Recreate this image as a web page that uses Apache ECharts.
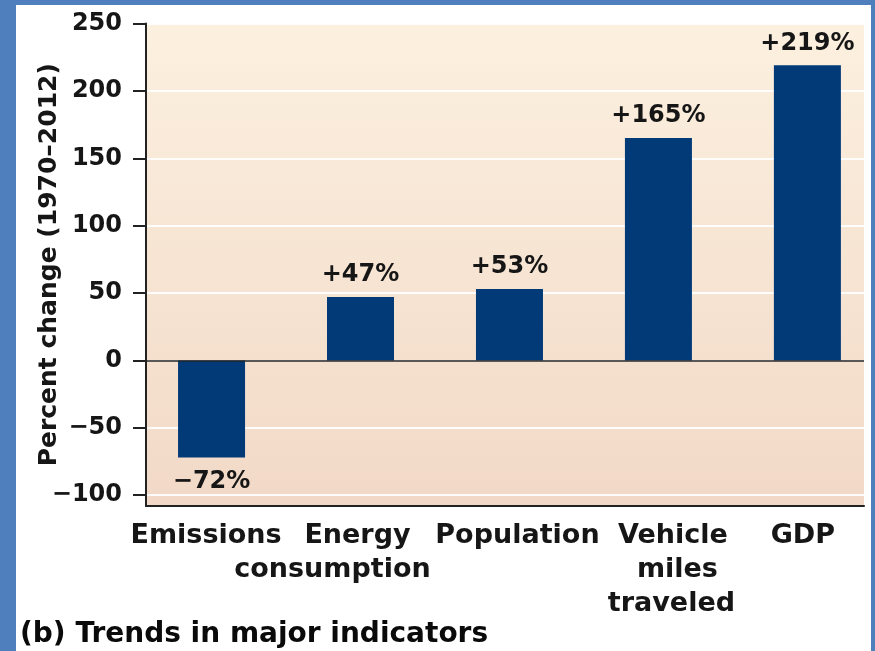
<!DOCTYPE html>
<html>
<head>
<meta charset="utf-8">
<script src="https://cdn.jsdelivr.net/npm/echarts@6/dist/echarts.min.js"></script>
<style>
html,body{margin:0;padding:0;background:#4f80bd;width:875px;height:651px;overflow:hidden;}
#chart{position:absolute;left:16px;top:5px;width:855px;height:646px;background:#ffffff;}
</style>
</head>
<body>
<div id="chart"></div>
<script>
// ---- data ----
var categories = ['Emissions', 'Energy\nconsumption', 'Population', 'Vehicle\nmiles\ntraveled', 'GDP'];
var values = [-72, 47, 53, 165, 219];
var yTicks = [-100, -50, 0, 50, 100, 150, 200, 250];
var xPositions = [0, 1, 2, 3, 4];
var titleText = '(b) Trends in major indicators';
var yName = 'Percent change (1970\u20132012)';

var FONT = 'DejaVu Sans';
var TXT = '#161616';
var X_MIN = -0.44, X_MAX = 4.38;

function rs(pad) {
  return { fontFamily: FONT, fontWeight: 'bold', fontSize: 27, lineHeight: 34, color: TXT, padding: pad };
}
// per-category label styles (horizontal nudges of the printed labels)
var labelStyleKeys = [['e'], ['en', 'co'], ['p'], ['v', 'mi', 'tr'], ['g']];
var rich = {
  e: rs([0, 11, 0, 0]),
  en: rs([0, 6, 0, 0]),
  co: rs([0, 56, 0, 0]),
  p: rs([0, 0, 0, 16]),
  v: rs([0, 0, 0, 29]),
  mi: rs([0, 0, 0, 38]),
  tr: rs([0, 0, 0, 26]),
  g: rs([0, 9, 0, 0])
};

function fmtSigned(v) {
  return (v > 0 ? '+' : '\u2212') + Math.abs(v) + '%';
}

var chart = echarts.init(document.getElementById('chart'), null, { renderer: 'canvas' });
chart.setOption({
  backgroundColor: '#ffffff',
  animation: false,
  title: {
    text: titleText,
    left: 4,
    top: 616,
    padding: 0,
    textStyle: { fontFamily: FONT, fontWeight: 'bold', fontSize: 28, color: '#0a0a0a' }
  },
  grid: {
    left: 130,
    right: 7,
    top: 18.5,
    bottom: 145,
    outerBoundsMode: 'none',
    containLabel: false,
    show: true,
    borderWidth: 0,
    backgroundColor: new echarts.graphic.LinearGradient(0, 0, 0, 1, [
      { offset: 0, color: '#fcf0df' },
      { offset: 1, color: '#f2d9c7' }
    ])
  },
  xAxis: {
    type: 'value',
    min: X_MIN,
    max: X_MAX,
    axisLine: { show: true, onZero: false, lineStyle: { color: '#222222', width: 2 } },
    axisTick: { show: false },
    splitLine: { show: false },
    axisLabel: {
      // an empty placeholder label at the axis min keeps the real first label visible
      customValues: [X_MIN].concat(xPositions),
      margin: 13,
      showMinLabel: false,
      hideOverlap: false,
      formatter: function (v) {
        if (Math.abs(v - Math.round(v)) > 1e-6) return '';
        var i = Math.round(v);
        var lines = categories[i].split('\n');
        return lines.map(function (s, k) { return '{' + labelStyleKeys[i][k] + '|' + s + '}'; }).join('\n');
      },
      rich: rich
    }
  },
  yAxis: {
    type: 'value',
    min: -108,
    max: 250,
    name: yName,
    nameLocation: 'middle',
    nameGap: 84,
    nameMoveOverlap: false,
    nameTextStyle: { fontFamily: FONT, fontWeight: 'bold', fontSize: 25, color: TXT },
    axisLine: { show: true, onZero: false, lineStyle: { color: '#222222', width: 2 } },
    axisTick: { show: true, customValues: yTicks, length: 13, lineStyle: { color: '#222222', width: 2 } },
    axisLabel: {
      customValues: yTicks,
      margin: 24,
      fontFamily: FONT,
      fontWeight: 'bold',
      fontSize: 24,
      color: TXT,
      formatter: function (v) { return v < 0 ? '\u2212' + Math.abs(v) : String(v); }
    },
    splitLine: { show: true, lineStyle: { color: 'rgba(255,255,255,0.9)', width: 2 } }
  },
  series: [{
    type: 'bar',
    barWidth: 67,
    data: values.map(function (v, i) {
      return {
        value: [xPositions[i], v],
        label: { position: v < 0 ? 'bottom' : 'top', distance: v < 0 ? 12 : 10 }
      };
    }),
    itemStyle: { color: '#023a78' },
    label: {
      show: true,
      fontFamily: FONT,
      fontWeight: 'bold',
      fontSize: 24,
      color: TXT,
      formatter: function (p) { return fmtSigned(p.value[1]); }
    },
    markLine: {
      silent: true,
      symbol: 'none',
      label: { show: false },
      lineStyle: { color: '#222222', width: 1.5, type: 'solid' },
      data: [{ yAxis: 0 }]
    }
  }]
});
</script>
</body>
</html>
